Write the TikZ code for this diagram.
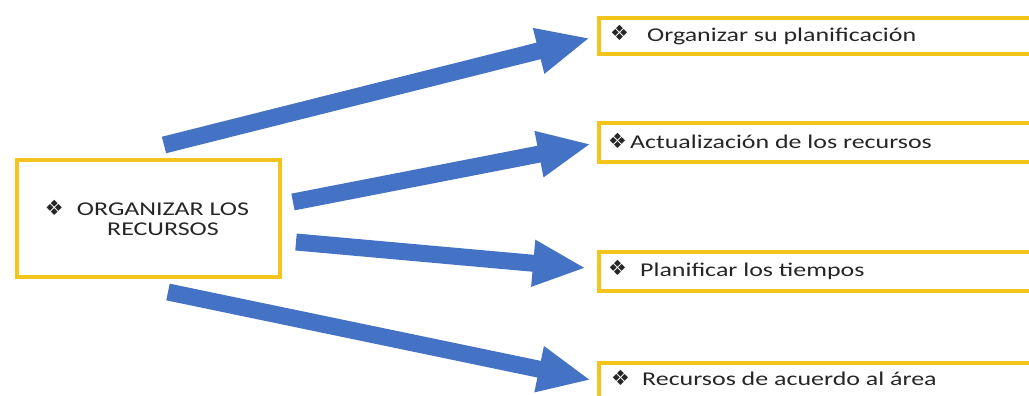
\documentclass[tikz,border=0pt]{standalone}
\usepackage{fontspec}
\setmainfont{Carlito}[FakeStretch=1.33]
\newfontfamily\symfont{DejaVu Sans}
\usetikzlibrary{arrows.meta,calc}
\definecolor{boxyellow}{RGB}{242,196,28}
\definecolor{arrowblue}{RGB}{68,114,196}
\definecolor{txtgray}{RGB}{38,38,38}
\newcommand{\bul}[1]{\makebox[#1][l]{\raisebox{0.5pt}{\symfont\fontsize{21}{21}\selectfont ❖}}}
\tikzset{
  ybox/.style={draw=boxyellow, line width=4pt, fill=white, inner sep=0pt},
  txt/.style={font=\fontsize{19.5}{20}\selectfont, text=txtgray, inner sep=0pt},
  blockarrow/.style={draw=arrowblue, line width=17pt,
     -{Triangle[width=43pt,length=53pt,fill=arrowblue]}},
}
\begin{document}
\begin{tikzpicture}[x=1pt,y=-1pt]
\useasboundingbox (0,0) rectangle (1029,396);
\clip (0,0) rectangle (1029,396);
% main box
\node[ybox, minimum width=263pt, minimum height=117pt, anchor=north west] (m) at (15,158) {};
\node[txt, align=center] (mt) at (163,218) {\llap{\bul{32pt}}ORGANIZAR LOS\\RECURSOS};
% right boxes
\node[ybox, minimum width=460pt, minimum height=36pt, anchor=north west] (r1) at (597,16) {};
\node[ybox, minimum width=460pt, minimum height=39pt, anchor=north west] (r2) at (597,121) {};
\node[ybox, minimum width=460pt, minimum height=39pt, anchor=north west] (r3) at (597,250) {};
\node[ybox, minimum width=460pt, minimum height=40pt, anchor=north west] (r4) at (597,361) {};
\node[txt, anchor=west] (t1) at (610,35) {\bul{37pt}Organizar su planificación};
\node[txt, anchor=west] (t2) at (608,141) {\bul{22pt}Actualización de los recursos};
\node[txt, anchor=west] (t3) at (608,270) {\bul{32pt}Planificar los tiempos};
\node[txt, anchor=west] (t4) at (611,378) {\bul{31pt}Recursos de acuerdo al área};
% arrow ends
\coordinate (a1) at ($(m.north)+(15.5,-13)$);
\coordinate (a2) at ($(m.east)+(11,-16.5)$);
\coordinate (a3) at ($(m.east)+(14,23.5)$);
\coordinate (a4) at ($(m.south)+(19.5,13)$);
\coordinate (e1) at ($(r1.west)+(-7,2)$);
\coordinate (e2) at ($(r2.west)+(-6,1.5)$);
\coordinate (e3) at ($(r3.west)+(-11,-3.5)$);
\coordinate (e4) at ($(r4.west)+(-6,-3)$);
\draw[blockarrow] (a1) -- (e1);
\draw[blockarrow] (a2) -- (e2);
\draw[blockarrow] (a3) -- (e3);
\draw[blockarrow] (a4) -- (e4);
\end{tikzpicture}
\end{document}
